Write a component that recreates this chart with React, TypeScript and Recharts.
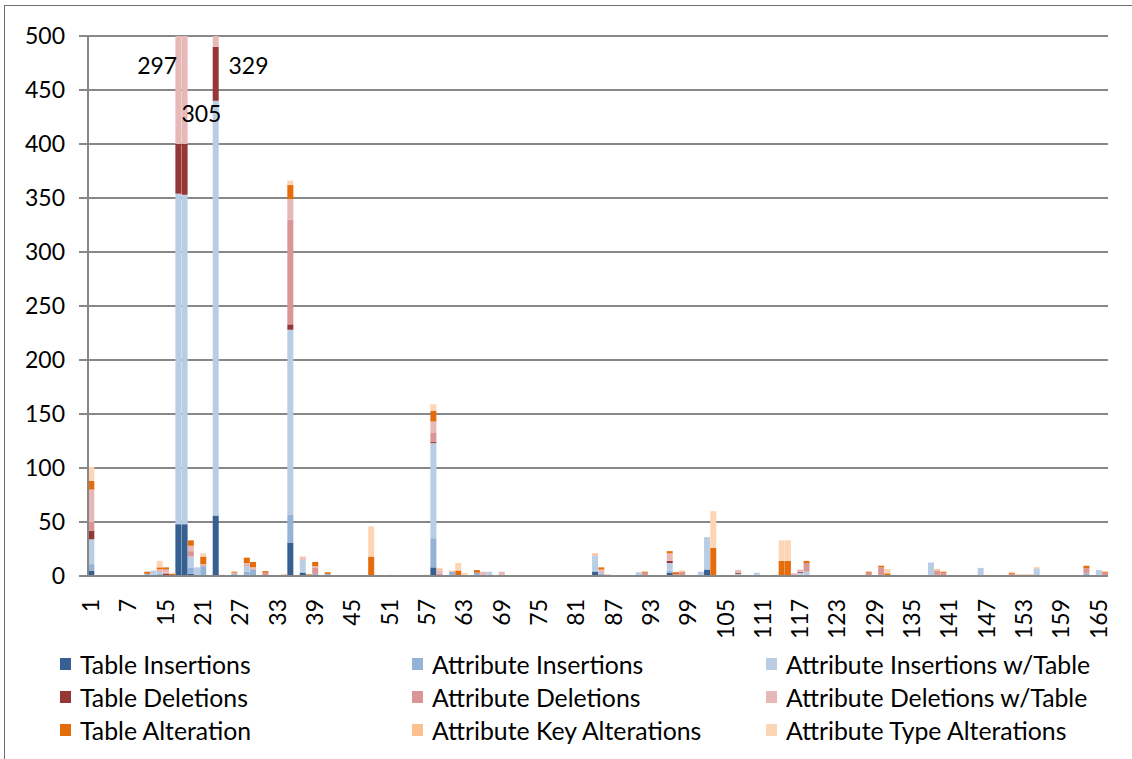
import { BarChart, Bar, XAxis, YAxis, CartesianGrid, ReferenceDot } from "recharts";

// Version numbers on the category axis (8 and 9 are missing from the history).
const versions: number[] = [1, 2, 3, 4, 5, 6, 7, ...Array.from({ length: 157 }, (_, i) => i + 10)];

// Values per category position (1-based); positions not listed are 0.
const tableInsertions: Record<number, number> = {
  1: 5, 15: 48, 16: 48, 17: 2, 21: 56, 26: 1, 33: 31, 35: 3, 56: 8, 82: 4, 94: 3, 100: 6,
};
const attributeInsertions: Record<number, number> = {
  1: 6, 10: 2, 11: 1, 12: 2, 17: 6, 19: 9, 24: 2, 26: 3, 27: 6, 33: 26, 35: 1, 37: 2, 39: 2,
  56: 27, 59: 4, 63: 3, 82: 1, 83: 2, 94: 2, 105: 1, 115: 1, 137: 1, 161: 2.5, 163: 1,
};
const attributeInsertionsWithTable: Record<number, number> = {
  1: 23, 11: 4, 12: 2, 15: 306, 16: 305, 17: 10, 18: 8, 21: 384, 26: 5, 33: 171, 35: 11,
  56: 88, 65: 4, 82: 14, 83: 1, 89: 3.5, 94: 7, 99: 4, 100: 30, 105: 1, 108: 3, 115: 2,
  116: 4, 136: 12.5, 144: 7.5, 153: 7, 163: 4.5,
};
const tableDeletions: Record<number, number> = {
  1: 8, 13: 2, 15: 46, 16: 47, 21: 50, 33: 5, 56: 1, 57: 1, 94: 2, 105: 1, 115: 1,
};
const attributeDeletions: Record<number, number> = {
  1: 8, 12: 1, 13: 1, 17: 5, 19: 1, 26: 1, 27: 1, 29: 3, 33: 97, 37: 6, 56: 9, 57: 1, 83: 1,
  90: 3, 95: 1.5, 96: 4, 116: 8, 126: 3, 128: 8, 137: 4, 138: 3, 149: 2, 161: 4.5, 164: 3,
};
const attributeDeletionsWithTable: Record<number, number> = {
  1: 30, 12: 1, 13: 3, 15: 297, 16: 305, 17: 5, 19: 1, 21: 329, 24: 1, 26: 2, 27: 1, 33: 19,
  35: 2, 37: 1, 56: 10, 57: 3, 64: 4, 67: 4, 83: 2, 94: 7, 105: 2.5, 114: 2.5, 115: 2,
};
const tableAlteration: Record<number, number> = {
  1: 8, 10: 2, 12: 2, 13: 2, 14: 2, 17: 5, 19: 7, 22: 1, 24: 1, 26: 5, 27: 5, 29: 1.5, 32: 1,
  33: 13, 36: 1.5, 37: 4, 39: 1.5, 46: 18, 49: 1, 55: 1, 56: 10, 60: 5, 61: 1, 63: 2.5,
  83: 2, 84: 1.2, 90: 1, 94: 2, 95: 2, 101: 26, 111: 1, 112: 14, 113: 14, 116: 2, 126: 1,
  128: 1.5, 129: 2.5, 131: 1, 138: 1, 145: 1, 149: 1, 150: 1.2, 151: 1.2, 152: 1.2, 161: 2.5,
  164: 1,
};
const attributeKeyAlterations: Record<number, number> = {
  35: 1, 57: 2, 59: 1, 82: 2, 96: 1, 137: 1.5, 153: 1,
};
const attributeTypeAlterations: Record<number, number> = {
  1: 13, 12: 6, 14: 1, 19: 3, 32: 1, 33: 4, 46: 28, 56: 6, 58: 0.7, 60: 7, 61: 2, 69: 0.7,
  74: 0.7, 101: 34, 109: 0.7, 112: 19, 113: 19, 122: 0.7, 129: 4, 149: 1,
};

const yTicks = [0, 50, 100, 150, 200, 250, 300, 350, 400, 450, 500];

const SERIES = [
  { key: "tIns", name: "Table Insertions", fill: "#376092", values: tableInsertions },
  { key: "aIns", name: "Attribute Insertions", fill: "#95B3D7", values: attributeInsertions },
  { key: "aInsW", name: "Attribute Insertions w/Table", fill: "#B9CDE5", values: attributeInsertionsWithTable },
  { key: "tDel", name: "Table Deletions", fill: "#953735", values: tableDeletions },
  { key: "aDel", name: "Attribute Deletions", fill: "#D99694", values: attributeDeletions },
  { key: "aDelW", name: "Attribute Deletions w/Table", fill: "#E6B9B8", values: attributeDeletionsWithTable },
  { key: "tAlt", name: "Table Alteration", fill: "#E46C0A", values: tableAlteration },
  { key: "aKey", name: "Attribute Key Alterations", fill: "#FAC090", values: attributeKeyAlterations },
  { key: "aType", name: "Attribute Type Alterations", fill: "#FCD5B5", values: attributeTypeAlterations },
];

// cut-off bars carry their clipped values as labels
const clippedLabels = [
  { version: "17", y: 472, text: "297", position: "left" as const, offset: 1 },
  { version: "18", y: 428, text: "305", position: "right" as const, offset: -3 },
  { version: "23", y: 472, text: "329", position: "right" as const, offset: 13 },
];

const data = versions.map((v, i) => {
  const row: Record<string, string | number> = { version: String(v) };
  SERIES.forEach((s) => {
    row[s.key] = s.values[i + 1] ?? 0;
  });
  return row;
});

const FONT = "Lato, 'Open Sans', sans-serif";
const GRID = "#878787";

function VersionTick({ x, y, payload }: any) {
  const ty = y + 15;
  return (
    <text
      x={x}
      y={ty}
      transform={`rotate(-90 ${x} ${ty})`}
      textAnchor="end"
      dy="0.35em"
      fontSize={23}
      fontFamily={FONT}
      fill="#000"
    >
      {payload.value}
    </text>
  );
}

export default function App() {
  return (
    <div
      style={{
        position: "fixed",
        left: 0,
        top: 0,
        width: 1132,
        height: 759,
        overflow: "hidden",
        background: "#fff",
        fontFamily: FONT,
      }}
    >
      <div style={{ position: "absolute", left: 0, top: 0 }}>
        <BarChart
          width={1132}
          height={640}
          data={data}
          margin={{ top: 36, right: 24, left: 0, bottom: 4 }}
          barCategoryGap="5%"
        >
          <CartesianGrid vertical={false} stroke={GRID} strokeWidth={2} />
          <XAxis
            dataKey="version"
            interval={5}
            height={60}
            tickLine={false}
            axisLine={{ stroke: GRID, strokeWidth: 2 }}
            tick={<VersionTick />}
          />
          <YAxis
            width={88}
            domain={[0, 500]}
            ticks={yTicks}
            allowDataOverflow
            tickSize={9}
            tickMargin={14}
            axisLine={{ stroke: GRID, strokeWidth: 2 }}
            tickLine={{ stroke: GRID, strokeWidth: 2 }}
            tick={{ fontSize: 23, fontFamily: FONT, fill: "#000" }}
          />
          {SERIES.map((s) => (
            <Bar
              key={s.key}
              dataKey={s.key}
              name={s.name}
              stackId="changes"
              fill={s.fill}
              isAnimationActive={false}
            />
          ))}
          {clippedLabels.map((l) => (
            <ReferenceDot
              key={l.text}
              x={l.version}
              y={l.y}
              r={0}
              fill="none"
              stroke="none"
              label={{
                value: l.text,
                position: l.position,
                offset: l.offset,
                fill: "#000",
                fontSize: 23,
                fontFamily: FONT,
              }}
            />
          ))}
        </BarChart>
      </div>
      {SERIES.map((s, i) => {
        const col = i % 3;
        const row = Math.floor(i / 3);
        const left = [60, 412, 766][col];
        const cy = 664 + row * 33;
        return (
          <div
            key={s.key}
            style={{
              position: "absolute",
              left,
              top: cy - 15,
              height: 30,
              display: "flex",
              alignItems: "center",
              whiteSpace: "nowrap",
              fontSize: 24.8,
              color: "#000",
            }}
          >
            <span
              style={{
                display: "inline-block",
                width: 11,
                height: 12,
                background: s.fill,
                marginRight: 9,
              }}
            />
            {s.name}
          </div>
        );
      })}
      {/* chart frame, only its left and top edges fall inside the picture */}
      <div
        style={{
          position: "absolute",
          left: 4,
          top: 5,
          width: 1200,
          height: 800,
          borderLeft: "1px solid #6e6e6e",
          borderTop: "1px solid #6e6e6e",
          pointerEvents: "none",
          zIndex: 2,
        }}
      />
    </div>
  );
}
